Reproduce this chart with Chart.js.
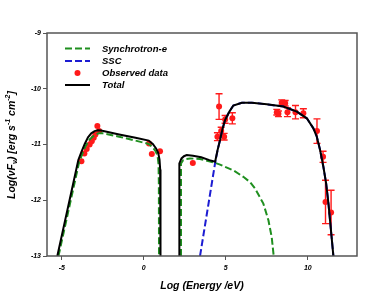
<!DOCTYPE html>
<html><head><meta charset="utf-8">
<script src="https://cdn.jsdelivr.net/npm/chart.js@4.4.0/dist/chart.umd.min.js"></script>
<style>html,body{margin:0;padding:0;background:#fff;overflow:hidden}</style>
</head><body>
<canvas id="c" width="374" height="295"></canvas>
<script>
// ---- data ----
const xTicks = [-5, 0, 5, 10];
const yTicks = [-13, -12, -11, -10, -9];

const synchLowX = [-5.2, -3.95, -3.75, -3.55, -3.3, -3.0, -2.75, -2.5, -1.5, -0.5, 0.3, 0.55, 0.72, 0.84, 0.9, 0.92, 0.93];
const synchLowY = [-13, -11.33, -11.17, -11.03, -10.91, -10.83, -10.8, -10.8, -10.86, -10.93, -10.99, -11.05, -11.12, -11.2, -11.35, -11.7, -13];

const synchHighX = [2.27, 2.27, 2.4, 2.6, 2.82, 3.43, 4.35, 4.65, 5.5, 6.07, 6.5, 6.79, 7.29, 7.6, 7.8, 7.92];
const synchHighY = [-13, -11.34, -11.28, -11.26, -11.25, -11.26, -11.33, -11.36, -11.47, -11.58, -11.68, -11.79, -12.06, -12.36, -12.66, -13];

const sscX = [3.43, 4.35, 4.5, 4.65, 4.8, 4.96, 5.22, 5.46, 5.98, 6.59, 7.5, 8.51, 9.33, 9.94, 10.34, 10.55, 10.75, 10.95, 11.12, 11.26, 11.56];
const sscY = [-13, -11.33, -11.1, -10.92, -10.72, -10.56, -10.41, -10.3, -10.25, -10.25, -10.28, -10.32, -10.41, -10.53, -10.71, -10.86, -11.1, -11.4, -11.7, -12.06, -13];

const totalLowX = [-5.27, -3.99, -3.8, -3.6, -3.4, -3.2, -3.0, -2.8, -2.6, -1.5, -0.5, 0.3, 0.55, 0.75, 0.88, 0.96, 1.0, 1.02, 1.02];
const totalLowY = [-13, -11.28, -11.13, -10.99, -10.87, -10.8, -10.76, -10.745, -10.75, -10.82, -10.88, -10.93, -10.99, -11.07, -11.15, -11.27, -11.45, -11.8, -13];

const totalHighX = [2.17, 2.17, 2.3, 2.45, 2.62, 3.0, 3.5, 4.0, 4.35, 4.5, 4.65, 4.8, 4.96, 5.22, 5.46, 5.98, 6.59, 7.5, 8.51, 9.33, 9.94, 10.34, 10.55, 10.75, 10.95, 11.12, 11.26, 11.56];
const totalHighY = [-13, -11.34, -11.25, -11.21, -11.19, -11.2, -11.23, -11.28, -11.31, -11.1, -10.92, -10.72, -10.56, -10.41, -10.3, -10.25, -10.25, -10.28, -10.32, -10.41, -10.53, -10.71, -10.86, -11.1, -11.4, -11.7, -12.06, -13];

const obsX   = [-3.8, -3.62, -3.48, -3.3, -3.17, -3.05, -2.95, -2.83, -2.72, 0.32, 0.49, 0.99, 2.99,
                4.59, 4.49, 4.72, 4.90, 4.96, 5.40, 8.11, 8.21, 8.41, 8.62, 8.76, 9.25, 9.73, 10.56, 10.93, 11.08, 11.42];
const obsY   = [-11.3, -11.16, -11.08, -11.0, -10.94, -10.88, -10.82, -10.67, -10.76, -10.98, -11.17, -11.12, -11.33,
                -10.32, -10.86, -10.76, -10.86, -10.55, -10.53, -10.42, -10.45, -10.25, -10.26, -10.42, -10.42, -10.44, -10.76, -11.22, -12.03, -12.22];
const obsErr = [0, 0, 0, 0, 0, 0, 0, 0, 0, 0, 0, 0, 0,
                0.23, 0.07, 0.07, 0.06, 0.07, 0.1, 0.05, 0.05, 0.05, 0.05, 0.08, 0.12, 0.08, 0.22, 0.1, 0.39, 0.4];

const legendLabels = ['Synchrotron-e', 'SSC', 'Observed data', 'Total'];

// ---- helpers ----
const pts = (xs, ys) => xs.map((x, i) => ({x: x, y: ys[i]}));
const GREEN = '#1f8f1f', BLUE = '#1c1cd2', RED = '#ff1a1a', AX = '#555';
const F = '"Liberation Sans", Arial, sans-serif';

const lineDs = (data, color, dash, w) => ({
  data: data, showLine: true, borderColor: color, borderWidth: w, borderDash: dash,
  pointRadius: 0, pointHoverRadius: 0, fill: false, tension: 0
});

const errorBars = {
  id: 'errorBars',
  beforeDatasetsDraw(chart) {
    const {ctx, scales: {x, y}} = chart;
    ctx.save();
    ctx.strokeStyle = RED; ctx.lineWidth = 1.4;
    obsX.forEach((vx, i) => {
      if (!obsErr[i]) return;
      const px = x.getPixelForValue(vx);
      const top = y.getPixelForValue(obsY[i] + obsErr[i]);
      const bot = y.getPixelForValue(obsY[i] - obsErr[i]);
      ctx.beginPath();
      ctx.moveTo(px, top); ctx.lineTo(px, bot);
      ctx.moveTo(px - 3.5, top); ctx.lineTo(px + 3.5, top);
      ctx.moveTo(px - 3.5, bot); ctx.lineTo(px + 3.5, bot);
      ctx.stroke();
    });
    ctx.restore();
  }
};

const decor = {
  id: 'decor',
  afterDraw(chart) {
    const {ctx, chartArea: a} = chart;
    ctx.save();
    // frame
    ctx.strokeStyle = AX; ctx.lineWidth = 1.5;
    ctx.strokeRect(a.left, a.top, a.right - a.left, a.bottom - a.top);
    // legend
    const rows = [48.5, 61, 73, 85];
    const styles = [
      {type: 'line', c: GREEN, dash: [7, 3]},
      {type: 'line', c: BLUE, dash: [7, 3]},
      {type: 'dot', c: RED},
      {type: 'line', c: '#000', dash: []}
    ];
    ctx.font = 'italic bold 9.5px ' + F;
    ctx.textBaseline = 'middle'; ctx.textAlign = 'left';
    styles.forEach((s, i) => {
      const yy = rows[i];
      if (s.type === 'line') {
        ctx.beginPath(); ctx.setLineDash(s.dash);
        ctx.strokeStyle = s.c; ctx.lineWidth = 2;
        ctx.moveTo(65, yy); ctx.lineTo(90, yy); ctx.stroke();
        ctx.setLineDash([]);
      } else {
        ctx.beginPath(); ctx.fillStyle = s.c;
        ctx.arc(77.5, yy, 3, 0, Math.PI * 2); ctx.fill();
      }
      ctx.fillStyle = '#000';
      ctx.fillText(legendLabels[i], 102, yy + 0.5);
    });
    // x title
    ctx.font = 'italic bold 10.5px ' + F;
    ctx.textAlign = 'center';
    ctx.fillText('Log (Energy /eV)', (a.left + a.right) / 2, 286);
    // y title with sub/superscripts
    const main = 'italic bold 10.5px ' + F, small = 'italic bold 7px ' + F;
    const pieces = [
      {t: 'Log(\u03BDF', f: main, dy: 0},
      {t: '\u03BD', f: small, dy: 3},
      {t: ') [erg s', f: main, dy: 0},
      {t: '-1', f: small, dy: -4},
      {t: ' cm', f: main, dy: 0},
      {t: '-2', f: small, dy: -4},
      {t: ']', f: main, dy: 0}
    ];
    let total = 0;
    pieces.forEach(p => { ctx.font = p.f; p.w = ctx.measureText(p.t).width; total += p.w; });
    ctx.translate(12, 145); ctx.rotate(-Math.PI / 2);
    ctx.textAlign = 'left';
    let cx = -total / 2;
    pieces.forEach(p => { ctx.font = p.f; ctx.fillText(p.t, cx, p.dy); cx += p.w; });
    ctx.restore();
  }
};

new Chart(document.getElementById('c'), {
  type: 'scatter',
  data: {
    datasets: [
      lineDs(pts(totalLowX, totalLowY), '#000', [], 2),
      lineDs(pts(totalHighX, totalHighY), '#000', [], 2),
      lineDs(pts(sscX, sscY), BLUE, [7, 3], 2),
      lineDs(pts(synchLowX, synchLowY), GREEN, [7, 3], 2),
      lineDs(pts(synchHighX, synchHighY), GREEN, [7, 3], 2),
      {data: pts(obsX, obsY), showLine: false, pointRadius: 3, pointBackgroundColor: RED,
       pointBorderWidth: 0, pointBorderColor: RED, pointHoverRadius: 3}
    ]
  },
  options: {
    responsive: false, animation: false, devicePixelRatio: 1,
    layout: {padding: {left: 0, right: 17, top: 33, bottom: 0}},
    plugins: {legend: {display: false}, tooltip: {enabled: false}},
    scales: {
      x: {
        type: 'linear', min: -5.9, max: 13,
        afterBuildTicks: s => { s.ticks = xTicks.map(v => ({value: v})); },
        afterFit: s => { s.height = 39; },
        grid: {drawOnChartArea: false, drawTicks: true, tickLength: 4, color: AX, lineWidth: 1},
        border: {display: false},
        ticks: {font: {family: F, size: 7, style: 'italic', weight: 'bold'}, color: '#000', padding: 4, maxRotation: 0}
      },
      y: {
        type: 'linear', min: -13, max: -9,
        afterBuildTicks: s => { s.ticks = yTicks.map(v => ({value: v})); },
        afterFit: s => { s.width = 47; },
        grid: {drawOnChartArea: false, drawTicks: true, tickLength: 4, color: AX, lineWidth: 1},
        border: {display: false},
        ticks: {font: {family: F, size: 7, style: 'italic', weight: 'bold'}, color: '#000', padding: 2}
      }
    }
  },
  plugins: [errorBars, decor]
});
</script>
</body></html>
